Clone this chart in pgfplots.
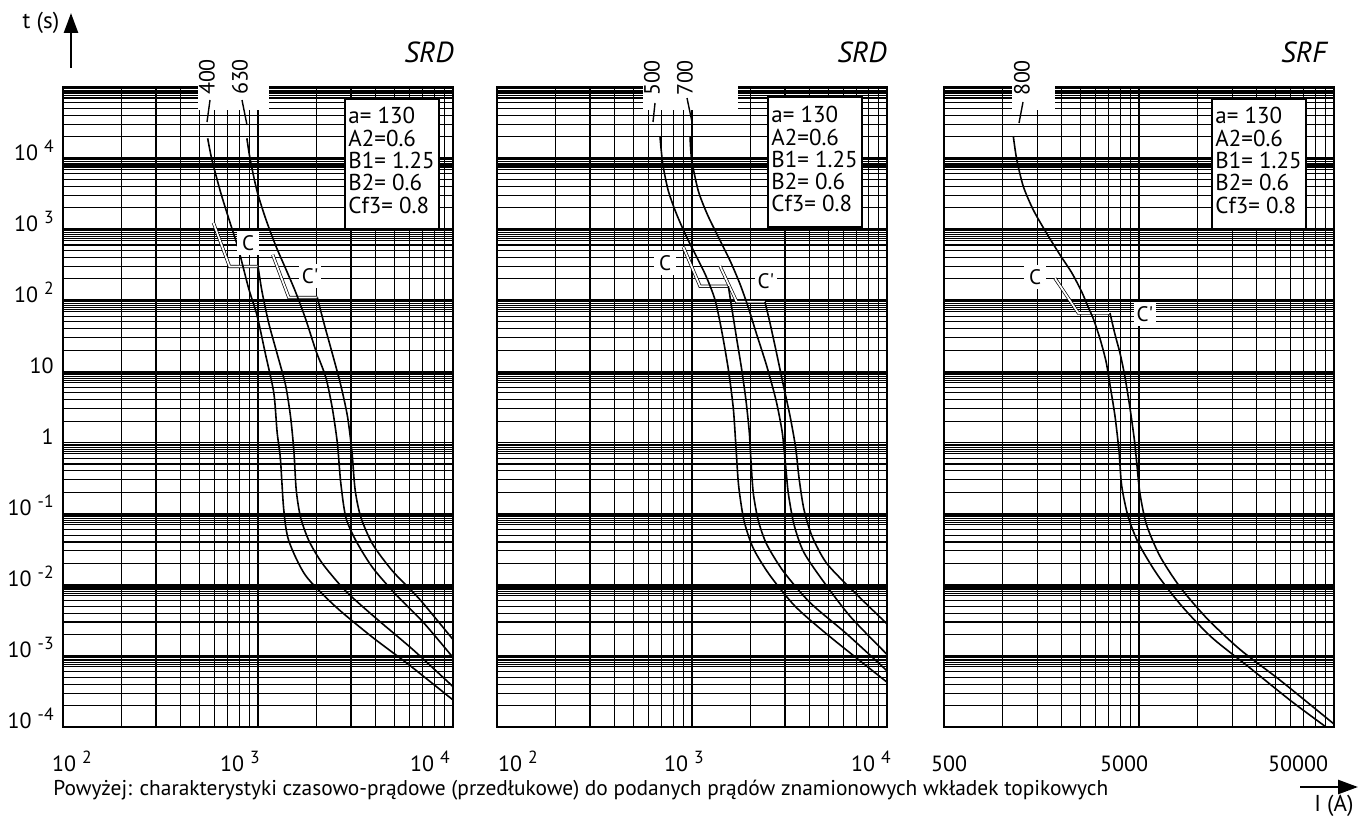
\documentclass[border=0pt]{standalone}
\usepackage{pgfplots}
\pgfplotsset{compat=1.18}
\usepackage{fontspec}
\setmainfont{PT Sans}
\usetikzlibrary{arrows.meta}
\newcommand\tenp[1]{10\hspace{3pt}\raisebox{3.8pt}{\fontsize{8.8}{8.8}\selectfont #1}}
\newcommand\Cp{C\textquotesingle}
\tikzset{
 fcurve/.style={black, line width=0.8pt, smooth, tension=0.45},
 fband/.style={draw=black, double=white, double distance=0.9pt, line width=0.35pt},
 flab/.style={fill=white, inner sep=1pt, minimum width=11pt, minimum height=12pt, font=\fontsize{10.5}{12}\selectfont},
}
\begin{document}
\begin{tikzpicture}
\useasboundingbox (0,0) rectangle (679.5pt,408pt);
% ---------------- Panel 1 (SRD 400/630)
\begin{axis}[at={(31.5pt,44.5pt)}, anchor=south west,
  scale only axis, width=195pt, height=320pt,
  xmode=log, ymode=log, ymin=1e-4, ymax=1e5, xmin=100, xmax=10000,
  axis line style={line width=1pt},
  grid=both,
  major grid style={black, line width=0.9pt},
  minor grid style={black, line width=0.55pt},
  major tick length=0pt, minor tick length=0pt,
  xticklabels={}, yticklabels={},
  xtick={100,1000,10000},
  minor xtick={200,300,400,500,600,700,800,900,2000,3000,4000,5000,6000,7000,8000,9000},
  ytick={1e-4,1e-3,1e-2,1e-1,1,10,100,1000,1e4,1e5},
  minor ytick={2e-4,3e-4,4e-4,5e-4,6e-4,7e-4,7.5e-4,8e-4,8.5e-4,9e-4,9.5e-4,2e-3,3e-3,4e-3,5e-3,6e-3,7e-3,7.5e-3,8e-3,8.5e-3,9e-3,9.5e-3,0.02,0.03,0.04,0.05,0.06,0.07,0.075,0.08,0.085,0.09,0.095,0.2,0.3,0.4,0.5,0.6,0.7,0.75,0.8,0.85,0.9,0.95,2,3,4,5,6,7,7.5,8,8.5,9,9.5,20,30,40,50,60,70,75,80,85,90,95,200,300,400,500,600,700,750,800,850,900,950,2000,3000,4000,5000,6000,7000,7500,8000,8500,9000,9500,20000,30000,40000,50000,60000,70000,75000,80000,85000,90000,95000}]
\addplot[fband, mark=none] coordinates {(591,1230) (714,300) (1000,300)};
\addplot[fband, mark=none] coordinates {(1190,437) (1438,110) (2014,110)};
\addplot[fcurve, mark=none] coordinates {(552,19000) (580,9550) (640,3470) (706,1445) (794,525) (895,148) (988,61.7) (1091,17.8) (1205,5.01) (1253,1.41) (1303,0.589) (1355,0.115) (1438,0.0417) (1754,0.0135) (2506,0.0049) (3873,0.00182) (5985,0.00074) (10000,0.00024)};
\addplot[fcurve, mark=none] coordinates {(1000,300) (1049,132) (1135,47.9) (1253,17.8) (1384,6.46) (1468,2.34) (1528,0.759) (1571,0.214) (1653,0.0891) (1824,0.0417) (2137,0.02) (2820,0.00813) (4025,0.00339) (6220,0.00123) (10000,0.00037)};
\addplot[fcurve, mark=none] coordinates {(877,19000) (912,9550) (988,3467) (1091,1445) (1228,603) (1384,282) (1557,132) (1754,55) (1976,20) (2225,8.32) (2406,3.02) (2553,0.977) (2656,0.275) (2820,0.0891) (3177,0.0417) (3873,0.0174) (5106,0.00724) (7000,0.00302) (10000,0.00095)};
\addplot[fcurve, mark=none] coordinates {(2014,110) (2178,47.9) (2406,17.8) (2656,6.46) (2876,2.34) (3030,0.759) (3150,0.214) (3368,0.0891) (3873,0.0372) (4909,0.0155) (6730,0.0063) (10000,0.0017)};
\node[flab] at (axis cs:889,635) {C};
\node[flab] at (axis cs:1849,218) {\Cp};
\end{axis}
% ---------------- Panel 2 (SRD 500/700)
\begin{axis}[at={(248.5pt,44.5pt)}, anchor=south west,
  scale only axis, width=195pt, height=320pt,
  xmode=log, ymode=log, ymin=1e-4, ymax=1e5, xmin=100, xmax=10000,
  axis line style={line width=1pt},
  grid=both,
  major grid style={black, line width=0.9pt},
  minor grid style={black, line width=0.55pt},
  major tick length=0pt, minor tick length=0pt,
  xticklabels={}, yticklabels={},
  xtick={100,1000,10000},
  minor xtick={200,300,400,500,600,700,800,900,2000,3000,4000,5000,6000,7000,8000,9000},
  ytick={1e-4,1e-3,1e-2,1e-1,1,10,100,1000,1e4,1e5},
  minor ytick={2e-4,3e-4,4e-4,5e-4,6e-4,7e-4,7.5e-4,8e-4,8.5e-4,9e-4,9.5e-4,2e-3,3e-3,4e-3,5e-3,6e-3,7e-3,7.5e-3,8e-3,8.5e-3,9e-3,9.5e-3,0.02,0.03,0.04,0.05,0.06,0.07,0.075,0.08,0.085,0.09,0.095,0.2,0.3,0.4,0.5,0.6,0.7,0.75,0.8,0.85,0.9,0.95,2,3,4,5,6,7,7.5,8,8.5,9,9.5,20,30,40,50,60,70,75,80,85,90,95,200,300,400,500,600,700,750,800,850,900,950,2000,3000,4000,5000,6000,7000,7500,8000,8500,9000,9500,20000,30000,40000,50000,60000,70000,75000,80000,85000,90000,95000}]
\addplot[fband, mark=none] coordinates {(903,562) (1099,158) (1536,158)};
\addplot[fband, mark=none] coordinates {(1393,302) (1695,95.5) (2366,95.5)};
\addplot[fcurve, mark=none] coordinates {(685,20417) (708,8318) (756,3467) (834,1622) (939,776) (1057,407) (1180,219) (1312,102) (1420,37.2) (1536,10.7) (1629,3.02) (1681,0.851) (1735,0.245) (1849,0.0794) (2064,0.0324) (2512,0.0135) (3400,0.0049) (5150,0.00182) (10000,0.000427)};
\addplot[fcurve, mark=none] coordinates {(1536,158) (1598,79.4) (1695,28.8) (1798,10.7) (1892,3.89) (1967,1.41) (2008,0.525) (2064,0.191) (2189,0.0794) (2415,0.0372) (2939,0.0155) (4028,0.00562) (6213,0.00204) (10000,0.000617)};
\addplot[fcurve, mark=none] coordinates {(977,20417) (996,9550) (1077,3467) (1198,1622) (1365,776) (1566,363) (1762,170) (1944,79.4) (2147,33.1) (2415,12.0) (2700,3.89) (2900,1.41) (3010,0.525) (3120,0.191) (3340,0.0692) (3740,0.0288) (4713,0.0112) (6500,0.00355) (10000,0.00105)};
\addplot[fcurve, mark=none] coordinates {(2366,95.5) (2512,47.9) (2718,17.8) (2939,6.46) (3184,2.34) (3400,0.851) (3540,0.316) (3750,0.115) (4130,0.0479) (4908,0.02) (6718,0.00813) (10000,0.00282)};
\node[flab] at (axis cs:728,332) {C};
\node[flab] at (axis cs:2393,185) {\Cp};
\end{axis}
% ---------------- Panel 3 (SRF 800)
\begin{axis}[at={(472pt,44.5pt)}, anchor=south west,
  scale only axis, width=195pt, height=320pt,
  xmode=log, ymode=log, ymin=1e-4, ymax=1e5, xmin=500, xmax=50000,
  axis line style={line width=1pt},
  grid=both,
  major grid style={black, line width=0.9pt},
  minor grid style={black, line width=0.55pt},
  major tick length=0pt, minor tick length=0pt,
  xticklabels={}, yticklabels={},
  xtick={500,5000,50000},
  minor xtick={1000,1500,2000,2500,3000,3500,4000,4500,10000,15000,20000,25000,30000,35000,40000,45000},
  ytick={1e-4,1e-3,1e-2,1e-1,1,10,100,1000,1e4,1e5},
  minor ytick={2e-4,3e-4,4e-4,5e-4,6e-4,7e-4,7.5e-4,8e-4,8.5e-4,9e-4,9.5e-4,2e-3,3e-3,4e-3,5e-3,6e-3,7e-3,7.5e-3,8e-3,8.5e-3,9e-3,9.5e-3,0.02,0.03,0.04,0.05,0.06,0.07,0.075,0.08,0.085,0.09,0.095,0.2,0.3,0.4,0.5,0.6,0.7,0.75,0.8,0.85,0.9,0.95,2,3,4,5,6,7,7.5,8,8.5,9,9.5,20,30,40,50,60,70,75,80,85,90,95,200,300,400,500,600,700,750,800,850,900,950,2000,3000,4000,5000,6000,7000,7500,8000,8500,9000,9500,20000,30000,40000,50000,60000,70000,75000,80000,85000,90000,95000}]
\addplot[fband, mark=none] coordinates {(1855,204) (2443,66.1) (3550,66.1)};
\addplot[fcurve, mark=none] coordinates {(1133,20417) (1180,9550) (1276,3981) (1436,1862) (1682,871) (1967,437) (2258,245) (2541,132) (2749,79.4) (2916,55.0) (3155,28.8) (3388,13.8) (3550,6.46) (3767,2.34) (3948,0.759) (4076,0.245) (4406,0.0891) (5000,0.0372) (6250,0.0135) (8350,0.0049) (11800,0.00182) (18500,0.00068) (30000,0.000234) (45500,0.0001)};
\addplot[fcurve, mark=none] coordinates {(3550,66.1) (3767,33.1) (4000,17.8) (4237,8.32) (4497,3.02) (4732,1.10) (4865,0.525) (5058,0.191) (5470,0.0692) (6411,0.0251) (8110,0.00933) (11120,0.00339) (16480,0.00123) (26400,0.000457) (50000,0.00011)};
\node[flab] at (axis cs:1464,211) {C};
\node[flab] at (axis cs:5366,63.5) {\Cp};
\end{axis}
% ---------------- annotations (pixel-like coordinates)
\begin{scope}[x=0.5pt, y=-0.5pt, shift={(0pt,408pt)}]
 \fill[white] (198,83) rectangle (269,110);
 \fill[white] (643,83) rectangle (738,110);
 \fill[white] (1012,83) rectangle (1055,110);
 \draw[line width=0.7pt] (207,122) -- (210,100);
 \draw[line width=0.7pt] (242,100) -- (247,125);
 \draw[line width=0.7pt] (655,103) -- (653,122);
 \draw[line width=0.7pt] (687,98) -- (692,122);
 \draw[line width=0.7pt] (1023,102) -- (1019,123);
 \node[rotate=90, inner sep=0pt, font=\fontsize{11}{13}\selectfont] at (207,77) {400};
 \node[rotate=90, inner sep=0pt, font=\fontsize{11}{13}\selectfont] at (240,77) {630};
 \node[rotate=90, inner sep=0pt, font=\fontsize{11}{13}\selectfont] at (652,78) {500};
 \node[rotate=90, inner sep=0pt, font=\fontsize{11}{13}\selectfont] at (685,78) {700};
 \node[rotate=90, inner sep=0pt, font=\fontsize{11}{13}\selectfont] at (1022,78) {800};
 % info boxes
 \foreach \bx/\by in {345/99, 768/97, 1212/99}{
  \draw[fill=white, line width=0.7pt] (\bx,\by) rectangle ({\bx+94},{\by+130});
  \node[anchor=base west, inner sep=0pt, font=\fontsize{11.5}{13}\selectfont] at ({\bx+3},{\by+25}) {a= 130};
  \node[anchor=base west, inner sep=0pt, font=\fontsize{11.5}{13}\selectfont] at ({\bx+3},{\by+48}) {A2=0.6};
  \node[anchor=base west, inner sep=0pt, font=\fontsize{11.5}{13}\selectfont] at ({\bx+3},{\by+70}) {B1= 1.25};
  \node[anchor=base west, inner sep=0pt, font=\fontsize{11.5}{13}\selectfont] at ({\bx+3},{\by+92}) {B2= 0.6};
  \node[anchor=base west, inner sep=0pt, font=\fontsize{11.5}{13}\selectfont] at ({\bx+3},{\by+114}) {Cf3= 0.8};
 }
 % titles
 \node[anchor=base east, inner sep=0pt, font=\fontsize{14.5}{16}\selectfont\itshape] at (454,63) {SRD};
 \node[anchor=base east, inner sep=0pt, font=\fontsize{14.5}{16}\selectfont\itshape] at (887,63) {SRD};
 \node[anchor=base east, inner sep=0pt, font=\fontsize{14.5}{16}\selectfont\itshape] at (1327,63) {SRF};
 % y tick labels
 \foreach \yy/\lab in {160/\tenp{4}, 231/\tenp{3}, 302/\tenp{2}, 373/10, 444/1, 515/\tenp{-1}, 586/\tenp{-2}, 657/\tenp{-3}, 728/\tenp{-4}}{
  \node[anchor=base east, inner sep=0pt, font=\fontsize{11}{12}\selectfont] at (54,\yy) {\lab};
 }
 % x tick labels
 \foreach \xx/\lab in {72/\tenp{2}, 240/\tenp{3}, 430/\tenp{4}, 518/\tenp{2}, 684/\tenp{3}, 871/\tenp{4}, 949/500, 1124/5000, 1298/50000}{
  \node[anchor=base, inner sep=0pt, font=\fontsize{11}{12}\selectfont] at (\xx,771) {\lab};
 }
 \node[anchor=base west, inner sep=0pt, font=\fontsize{10.7}{12}\selectfont] at (53,795)
  {Powyżej: charakterystyki czasowo-prądowe (przedłukowe) do podanych prądów znamionowych wkładek topikowych};
 % axis arrows
 \draw[line width=1.3pt, -{Triangle[length=10pt,width=7pt]}] (71,68) -- (71,13);
 \node[font=\fontsize{11.5}{13}\selectfont, inner sep=0pt] at (41,23) {t (s)};
 \draw[line width=1.3pt, -{Triangle[length=10pt,width=7pt]}] (1300,787) -- (1358,787);
 \node[font=\fontsize{11.5}{13}\selectfont, inner sep=0pt] at (1334,806) {I (A)};
\end{scope}
\end{tikzpicture}
\end{document}
